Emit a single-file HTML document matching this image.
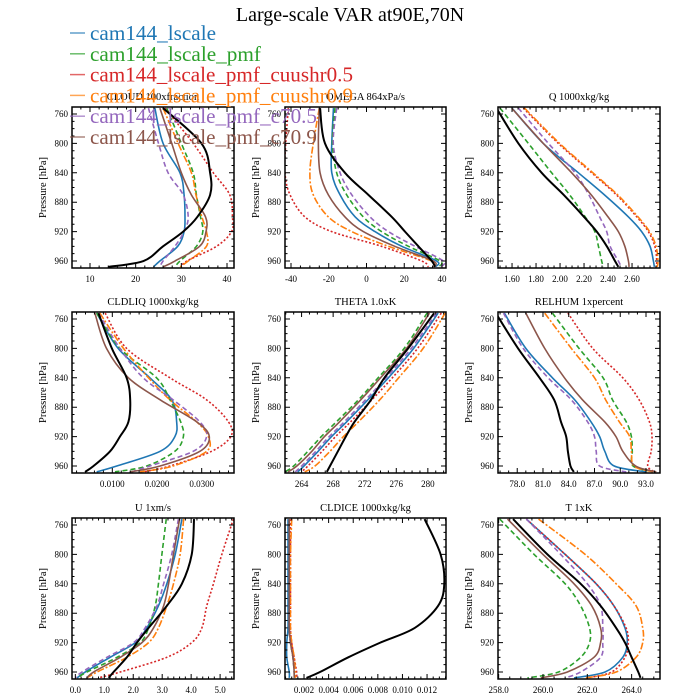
<!DOCTYPE html>
<html><head><meta charset="utf-8"><style>
html,body{margin:0;padding:0;background:#fff;}
svg{display:block;font-family:"Liberation Serif",serif;}
</style></head><body>
<svg id="chart" width="700" height="700" viewBox="0 0 700 700">
<text x="350" y="21" text-anchor="middle" font-size="20" fill="#000">Large-scale VAR at90E,70N</text>
<g id="panels"></g>
<g id="legend"></g>
</svg>
<script>
// pressure levels (hPa) shared by all series
const levels = [752, 800, 840, 870, 900, 920, 940, 960, 968];
const seriesNames = ["cam144_lscale","cam144_lscale_pmf","cam144_lscale_pmf_cuushr0.5","cam144_lscale_pmf_cuushr0.9","cam144_lscale_pmf_c70.5","cam144_lscale_pmf_c70.9"];
// CLOUD
const cloudBlack = [26.0,34.4,36.3,36.3,33.5,30.4,26.0,21.7,14.0];
const cloudBlue = [24.2,26.0,29.7,30.6,30.8,30.6,29.2,25.3,23.9];
const cloudGreen = [26.8,30.0,32.6,33.3,34.2,34.7,33.3,29.7,28.6];
const cloudRed = [26.4,32.6,37.0,40.6,41.2,41.0,37.7,31.2,30.0];
const cloudOrange = [26.0,29.3,32.2,33.2,34.5,35.5,35.5,31.5,29.7];
const cloudPurple = [22.8,25.0,27.1,30.4,31.5,30.6,28.6,26.0,25.3];
const cloudBrown = [25.3,27.9,30.0,32.2,35.3,35.4,34.0,28.6,26.0];
// OMEGA
const omegaBlack = [-24.6,-22.0,-11.4,1.0,13.4,20.4,27.5,34.6,36.3];
const omegaBlue = [-17.5,-18.4,-18.4,-14.0,-6.0,4.5,18.7,37.2,36.3];
const omegaGreen = [-16.7,-18.0,-15.8,-10.5,-1.7,8.0,22.2,39.0,38.0];
const omegaRed = [-41.4,-42.8,-43.2,-40.5,-32.6,-18.4,8.0,29.3,32.8];
const omegaOrange = [-25.0,-28.2,-30.0,-28.2,-20.2,-7.8,11.6,34.6,36.0];
const omegaPurple = [-15.8,-17.6,-14.0,-7.8,1.9,11.6,25.7,40.7,39.0];
const omegaBrown = [-25.0,-25.5,-24.6,-20.2,-11.4,-1.7,15.0,35.4,35.4];
// Q
const qBlack = [1.47,1.653,1.847,2.03,2.2,2.306,2.39,2.458,2.486];
const qBlue = [1.6,1.86,2.153,2.37,2.57,2.68,2.75,2.778,2.786];
const qGreen = [1.5,1.736,1.93,2.08,2.21,2.29,2.32,2.347,2.36];
const qRed = [1.694,1.986,2.264,2.47,2.64,2.736,2.79,2.806,2.8];
const qOrange = [1.704,1.996,2.274,2.48,2.65,2.746,2.8,2.816,2.81];
const qPurple = [1.653,1.903,2.125,2.24,2.33,2.389,2.417,2.486,2.51];
const qBrown = [1.597,1.86,2.097,2.26,2.4,2.486,2.54,2.57,2.575];
// CLDLIQ
const liqBlack = [0.0069,0.0099,0.0132,0.0140,0.0136,0.0117,0.0095,0.0058,0.0039];
const liqBlue = [0.0065,0.0113,0.0184,0.0233,0.0244,0.0240,0.0207,0.0110,0.0065];
const liqGreen = [0.0065,0.0117,0.0199,0.0229,0.0253,0.0259,0.0240,0.0177,0.0106];
const liqRed = [0.0084,0.0132,0.0229,0.0311,0.0360,0.0365,0.0322,0.0229,0.0169];
const liqOrange = [0.0072,0.0125,0.0181,0.0229,0.0289,0.0315,0.0311,0.0236,0.0162];
const liqPurple = [0.0069,0.0117,0.0169,0.0236,0.0296,0.0311,0.0281,0.0184,0.0143];
const liqBrown = [0.0061,0.0087,0.0136,0.0207,0.0289,0.0317,0.0296,0.0207,0.0140];
// THETA
const thBlack = [280.8,277.5,274.5,272.8,270.7,269.6,268.6,267.6,267.2];
const thBlue = [281.3,278.2,275.0,272.4,269.7,267.8,266.1,264.3,263.5];
const thGreen = [279.9,277.0,273.7,271.2,268.4,266.5,264.8,263.0,261.9];
const thRed = [281.7,278.7,275.5,272.9,270.2,268.3,266.6,264.8,264.0];
const thOrange = [282.2,279.4,276.3,273.9,271.2,269.3,267.6,265.7,264.4];
const thPurple = [281.1,277.9,274.7,272.1,269.4,267.5,265.8,264.0,263.2];
const thBrown = [280.2,277.3,274.0,271.5,268.8,266.9,265.3,263.4,262.3];
// RELHUM
const rhBlack = [75.5,78.1,80.6,82.3,83.1,83.7,83.9,84.2,84.6];
const rhBlue = [76.5,79.0,82.1,84.7,86.6,87.6,88.2,89.3,93.0];
const rhGreen = [82.1,85.2,88.0,89.1,90.7,91.3,91.4,91.5,94.0];
const rhRed = [83.9,86.8,90.3,92.2,93.4,93.7,93.6,93.2,94.0];
const rhOrange = [81.2,84.3,87.0,88.3,89.9,91.1,91.3,91.6,93.8];
const rhPurple = [76.4,78.7,81.6,84.3,86.2,87.0,87.2,87.6,90.7];
const rhBrown = [79.0,81.2,83.5,85.6,88.2,89.5,90.3,91.8,94.2];
// U
const uBlack = [4.10,4.02,3.68,3.16,2.53,2.13,1.78,1.32,1.15];
const uBlue = [3.68,3.45,3.16,2.87,2.47,2.07,1.20,0.34,0.06];
const uGreen = [3.14,2.99,2.87,2.76,2.53,2.24,1.44,0.40,0.06];
const uRed = [5.46,5.06,4.77,4.54,4.37,4.02,3.16,1.55,0.80];
const uOrange = [3.74,3.62,3.39,3.16,2.87,2.53,1.78,0.75,0.40];
const uPurple = [3.56,3.33,3.05,2.82,2.41,2.01,1.09,0.23,0.00];
const uBrown = [3.60,3.39,3.22,3.05,2.70,2.30,1.55,0.63,0.40];
// CLDICE
const iceBlack = [0.0118,0.0131,0.0134,0.0129,0.0110,0.0082,0.0056,0.0033,0.0022];
const iceBlue = [0.0007,0.0007,0.0007,0.0007,0.0007,0.0006,0.0006,0.0008,0.0008];
const iceGreen = [0.0008,0.0008,0.0008,0.0008,0.0008,0.0009,0.0011,0.0012,0.0012];
const iceRed = [0.0009,0.0009,0.0009,0.0009,0.0009,0.0010,0.0012,0.0014,0.0014];
const iceOrange = [0.0010,0.0009,0.0009,0.0009,0.0009,0.0010,0.0012,0.0013,0.0013];
const icePurple = [0.0008,0.0008,0.0008,0.0008,0.0008,0.0009,0.0011,0.0012,0.0012];
const iceBrown = [0.0008,0.0008,0.0008,0.0008,0.0008,0.0009,0.0011,0.0012,0.0012];
// T
const tBlack = [258.65,260.2,261.7,262.6,263.3,263.7,264.0,264.3,264.4];
const tBlue = [259.25,261.0,262.4,263.2,263.7,263.8,263.6,262.8,261.4];
const tGreen = [258.05,259.6,261.0,261.7,262.1,262.1,261.7,260.7,259.3];
const tRed = [259.25,261.0,262.4,263.2,263.75,263.85,263.7,263.1,262.0];
const tOrange = [259.8,261.9,263.3,264.2,264.5,264.5,264.2,263.3,261.9];
const tPurple = [259.25,260.8,262.0,262.6,262.7,262.7,262.6,261.7,261.0];
const tBrown = [258.4,260.0,261.4,262.2,262.6,262.6,262.3,261.1,259.9];
// tick labels
const yTicks = [760,800,840,880,920,960];
const cloudTicks = ["10","20","30","40"];
const omegaTicks = ["-40","-20","0","20","40"];
const qTicks = ["1.60","1.80","2.00","2.20","2.40","2.60"];
const liqTicks = ["0.0100","0.0200","0.0300"];
const thTicks = ["264","268","272","276","280"];
const rhTicks = ["78.0","81.0","84.0","87.0","90.0","93.0"];
const uTicks = ["0.0","1.0","2.0","3.0","4.0","5.0"];
const iceTicks = ["0.002","0.004","0.006","0.008","0.010","0.012"];
const tTicks = ["258.0","260.0","262.0","264.0"];

const NS="http://www.w3.org/2000/svg";
const colors=["#1f77b4","#2ca02c","#d62728","#ff7f0e","#9467bd","#8c564b"];
const dashes=["", "5,3", "2,2", "7,2,2,2", "5,3", ""];
const cols=[[72,234],[285,446],[498,660]];
const rows=[[107,268],[312,473],[518,679]];
const pRange=[750.5,969.5];
const panels=[
 {name:"cloud",title:"CLOUD  100xfraction",dom:[6.06,41.53],ticks:cloudTicks,minor:2,s:[cloudBlue,cloudGreen,cloudRed,cloudOrange,cloudPurple,cloudBrown],k:cloudBlack},
 {name:"omega",title:"OMEGA  864xPa/s",dom:[-43.18,42.12],ticks:omegaTicks,minor:5,s:[omegaBlue,omegaGreen,omegaRed,omegaOrange,omegaPurple,omegaBrown],k:omegaBlack},
 {name:"q",title:"Q  1000xkg/kg",dom:[1.483,2.833],ticks:qTicks,minor:0.05,s:[qBlue,qGreen,qRed,qOrange,qPurple,qBrown],k:qBlack},
 {name:"cldliq",title:"CLDLIQ  1000xkg/kg",dom:[0.00098,0.03723],ticks:liqTicks,minor:0.002,s:[liqBlue,liqGreen,liqRed,liqOrange,liqPurple,liqBrown],k:liqBlack},
 {name:"theta",title:"THETA  1.0xK",dom:[261.9,282.3],ticks:thTicks,minor:1,s:[thBlue,thGreen,thRed,thOrange,thPurple,thBrown],k:thBlack},
 {name:"relhum",title:"RELHUM  1xpercent",dom:[75.76,94.63],ticks:rhTicks,minor:1,s:[rhBlue,rhGreen,rhRed,rhOrange,rhPurple,rhBrown],k:rhBlack},
 {name:"u",title:"U  1xm/s",dom:[-0.115,5.48],ticks:uTicks,minor:0.2,s:[uBlue,uGreen,uRed,uOrange,uPurple,uBrown],k:uBlack},
 {name:"cldice",title:"CLDICE  1000xkg/kg",dom:[0.000455,0.01354],ticks:iceTicks,minor:0.0005,s:[iceBlue,iceGreen,iceRed,iceOrange,icePurple,iceBrown],k:iceBlack},
 {name:"t",title:"T  1xK",dom:[257.97,265.28],ticks:tTicks,minor:0.5,s:[tBlue,tGreen,tRed,tOrange,tPurple,tBrown],k:tBlack}
];
function mk(tag,attrs,parent){const e=document.createElementNS(NS,tag);for(const a in attrs)e.setAttribute(a,attrs[a]);parent.appendChild(e);return e;}
function smooth(pts){let d="M"+pts[0][0].toFixed(2)+","+pts[0][1].toFixed(2);
 for(let i=0;i<pts.length-1;i++){const p0=pts[Math.max(0,i-1)],p1=pts[i],p2=pts[i+1],p3=pts[Math.min(pts.length-1,i+2)];
  const c1=[p1[0]+(p2[0]-p0[0])/6,p1[1]+(p2[1]-p0[1])/6],c2=[p2[0]-(p3[0]-p1[0])/6,p2[1]-(p3[1]-p1[1])/6];
  d+=" C"+c1[0].toFixed(2)+","+c1[1].toFixed(2)+" "+c2[0].toFixed(2)+","+c2[1].toFixed(2)+" "+p2[0].toFixed(2)+","+p2[1].toFixed(2);}
 return d;}
const root=document.getElementById("panels");
panels.forEach((P,idx)=>{
 const [x0,x1]=cols[idx%3],[y0,y1]=rows[Math.floor(idx/3)];
 const xs=v=>x0+(v-P.dom[0])/(P.dom[1]-P.dom[0])*(x1-x0);
 const ys=p=>y0+(p-pRange[0])/(pRange[1]-pRange[0])*(y1-y0);
 const g=mk("g",{},root);
 
 
 const t=mk("text",{x:(x0+x1)/2,y:y0-7,"text-anchor":"middle","font-size":"10.5"},g);t.textContent=P.title;
 
 
 const yl=mk("text",{x:0,y:0,"text-anchor":"middle","font-size":"10.5",transform:`translate(${x0-26},${(y0+y1)/2}) rotate(-90)`},g);yl.textContent="Pressure [hPa]";
 
 
 const cid="clip"+idx;const cp=mk("clipPath",{id:cid},g);mk("rect",{x:x0,y:y0,width:x1-x0,height:y1-y0},cp);
 const lg=mk("g",{"clip-path":`url(#${cid})`},g);
 P.s.forEach((arr,si)=>{const pts=arr.map((v,i)=>[xs(v),ys(levels[i])]);
  const pa=mk("path",{d:smooth(pts),fill:"none",stroke:colors[si],"stroke-width":"1.6","stroke-dasharray":dashes[si]},lg);
  
  });
 const kp=mk("path",{d:smooth(P.k.map((v,i)=>[xs(v),ys(levels[i])])),fill:"none",stroke:"#000","stroke-width":"2"},lg);
 
 
 // ticks
 let tk="";
 for(let p=750;p<=970;p+=10){if(p<pRange[0]||p>pRange[1])continue;const y=ys(p),L=(p%40===0)?5:2.5;tk+=`M${x0},${y}h${L}M${x1},${y}h${-L}`;}
 const d0=P.dom[0],d1=P.dom[1],st=P.minor;
 for(let v=Math.ceil(d0/st)*st;v<=d1;v+=st){const x=xs(v);tk+=`M${x},${y1}v-2.5M${x},${y0}v2.5`;}
 P.ticks.forEach(s=>{const x=xs(parseFloat(s));tk+=`M${x},${y1}v-5M${x},${y0}v5`;
  const tl=mk("text",{x:x,y:y1+14,"text-anchor":"middle","font-size":"9"},g);tl.textContent=s;
  
  });
 yTicks.forEach(p=>{const tl=mk("text",{x:x0-4,y:ys(p)+3,"text-anchor":"end","font-size":"9"},g);tl.textContent=p;
  
  });
 mk("path",{d:tk,stroke:"#000","stroke-width":"1",fill:"none"},g);
 const fr=mk("rect",{x:x0,y:y0,width:x1-x0,height:y1-y0,fill:"none",stroke:"#000","stroke-width":"1.5"},g);
 
 
});
const lgRoot=document.getElementById("legend");
const lgWidths=[126,171,263,263,227,227];
seriesNames.forEach((n,i)=>{const y=33+i*20.8;
 const e=mk("g",{},lgRoot);
 
 
 mk("line",{x1:70,x2:85,y1:y,y2:y,stroke:colors[i],"stroke-width":"1.5",opacity:"0.7"},e);
 const t=mk("text",{x:90,y:y+7,"font-size":"21",fill:colors[i],textLength:lgWidths[i],lengthAdjust:"spacingAndGlyphs"},e);t.textContent=n;});
</script>
</body></html>
